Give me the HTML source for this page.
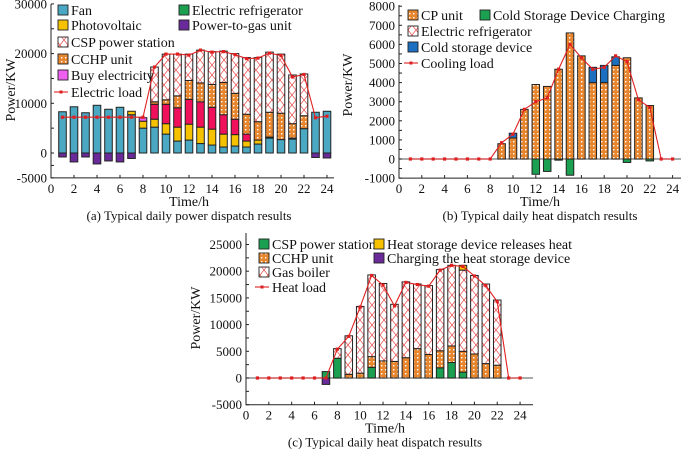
<!DOCTYPE html>
<html><head><meta charset="utf-8">
<style>
body{margin:0;background:#fff;}
svg{display:block;font-family:"Liberation Serif",serif;}
text{fill:#111;}
</style></head>
<body>
<svg id="root" width="685" height="450" viewBox="0 0 685 450">
<defs>
<pattern id="dots" width="4" height="4" patternUnits="userSpaceOnUse">
<rect width="4" height="4" fill="#e8862e"/><rect x="1" y="1" width="1.4" height="1.4" fill="#fff"/>
</pattern>
<pattern id="hatch" width="8" height="10" patternUnits="userSpaceOnUse">
<rect width="8" height="10" fill="#fff"/><path d="M0,0L8,10M8,0L0,10" stroke="#e84040" stroke-width="0.7"/>
</pattern>
</defs>
</svg>
<script>
// ---------- Chart (a) data ----------
const hoursA=[1,2,3,4,5,6,7,8,9,10,11,12,13,14,15,16,17,18,19,20,21,22,23,24];
const fanA=[8300,9300,8100,9600,8800,9200,7700,5000,5200,3800,2400,2600,1900,1600,1200,1400,1200,1800,3000,2700,2800,4900,8200,8400];
const pvA=[0,0,0,0,0,0,700,1400,1600,2100,2800,3200,3300,3200,2600,2300,1200,800,200,0,200,0,0,0];
const buyA=[0,0,0,0,0,0,0,700,0,0,0,0,0,0,0,0,0,0,0,0,0,0,0,0];
const crimsonA=[0,0,0,0,0,0,0,0,3000,3900,3900,5000,5100,4400,3900,3100,1400,0,0,0,0,0,0,0];
const cchpA=[0,0,0,0,0,0,0,0,500,900,2400,3800,3800,4600,6500,5200,4000,3700,5000,5300,2900,2600,0,0];
const cspA=[0,0,0,0,0,0,0,0,7000,9200,8400,5300,6600,6600,6300,8000,11400,12900,12100,11900,9800,8400,0,0];
const p2gA=[-800,-1800,-800,-2200,-1600,-1800,-1100,0,0,0,0,0,0,0,0,0,0,0,0,0,0,0,-900,-1000];
const loadA=[7200,7200,7200,7200,7200,7200,7200,7200,17300,19900,19900,19700,20700,20300,20400,19800,19000,19100,20100,19600,15300,15800,7100,7400];
const ticksA=[-5000,0,10000,20000,30000];
// ---------- Chart (b) data ----------
const cpB=[0,0,0,0,0,0,0,0,800,1100,2600,3900,3800,4700,6600,5400,4000,4000,4900,5300,3200,2800,0,0];
const coldDevB=[0,0,0,0,0,0,0,0,0,250,0,0,0,0,0,0,800,900,450,0,0,0,0,0];
const chargeB=[0,0,0,0,0,0,0,0,0,0,0,-800,-650,-60,-850,0,0,0,0,-180,0,-100,0,0];
const loadB=[0,0,0,0,0,0,0,0,850,1300,2600,3000,3200,4700,6000,5300,4700,4800,5400,5100,3100,2700,0,0];
const ticksB=[-1000,0,1000,2000,3000,4000,5000,6000,7000,8000];
// ---------- Chart (c) data ----------
const cspC=[0,0,0,0,0,0,1200,3700,0,0,2000,0,0,0,0,0,1900,2900,1100,0,0,0,0,0];
const cchpC=[0,0,0,0,0,0,0,0,700,900,2000,3200,3100,3800,5500,4400,3200,3100,3900,4500,2700,2400,0,0];
const boilerC=[0,0,0,0,0,0,0,1800,7200,12500,15300,14500,10700,14200,12100,12900,15200,15100,15200,14700,14900,12200,0,0];
const releaseC=[0,0,0,0,0,0,0,0,0,0,0,0,0,0,0,0,0,0,900,0,0,0,0,0];
const chargeC=[0,0,0,0,0,0,-1200,0,0,0,0,0,0,0,0,0,0,0,0,0,0,0,0,0];
const loadC=[0,0,0,0,0,0,0,5400,7800,13300,19200,17400,13500,17900,17500,17200,20200,21100,20900,19100,17300,14300,0,0];
const ticksC=[-5000,0,5000,10000,15000,20000,25000];
const xTicks=[0,2,4,6,8,10,12,14,16,18,20,22,24];

const NS='http://www.w3.org/2000/svg';
const root=document.getElementById('root');
function mk(tag,attrs,parent){const e=document.createElementNS(NS,tag);for(const k in attrs)e.setAttribute(k,attrs[k]);(parent||root).appendChild(e);return e;}

function chart(cfg){
  const g=mk('g',{});
  
  
  const x=h=>cfg.x0+(h)*cfg.xs;
  const y=v=>cfg.y0-(v)*cfg.ys;
  const top=cfg.yTop, bot=y(cfg.yMin);
  const ax=mk('path',{d:`M${cfg.x0},${top}V${bot}H${cfg.xEnd}`,stroke:'#222','stroke-width':1,fill:'none'},g);
  
  
  if(cfg.zeroLine){const z=mk('line',{x1:cfg.x0,x2:cfg.xEnd,y1:y(0),y2:y(0),stroke:'#777','stroke-width':1.2},g);
    
    }
  cfg.ticks.forEach((t,i)=>{
    const ty=y(t);
    mk('line',{x1:cfg.x0,x2:cfg.x0+3,y1:ty,y2:ty,stroke:'#222'},g);
    if(i<cfg.ticks.length-1){const my=(ty+y(cfg.ticks[i+1]))/2;mk('line',{x1:cfg.x0,x2:cfg.x0+3,y1:my,y2:my,stroke:'#222'},g);}
    const tl=mk('text',{x:cfg.x0-4,y:ty+4.5,'text-anchor':'end','font-size':13},g);tl.textContent=t;
    
    
  });
  xTicks.forEach(t=>{
    mk('line',{x1:x(t),x2:x(t),y1:bot,y2:bot-3,stroke:'#222'},g);
    const tl=mk('text',{x:x(t),y:bot+15,'text-anchor':'middle','font-size':13},g);tl.textContent=t;
    
    
  });
  const bw=cfg.xs*0.66;
  hoursA.forEach((h,i)=>{
    let pos=0,neg=0;
    cfg.series.forEach(s=>{
      const v=s.data[i]; if(!v) return;
      let y1,y2;
      if(v>0){y1=y(pos+v);y2=y(pos);pos+=v;}else{y1=y(neg);y2=y(neg+v);neg+=v;}
      const r=mk('rect',{x:x(h)-bw/2,y:y1,width:bw,height:Math.max(0.5,y2-y1),fill:s.fill,stroke:'#222','stroke-width':1},g);
      
      
    });
  });
  const pts=hoursA.map((h,i)=>x(h)+','+y(cfg.load[i])).join(' ');
  const pl=mk('polyline',{points:pts,fill:'none',stroke:'#e02020','stroke-width':1.1},g);
  
  
  hoursA.forEach((h,i)=>{const c=mk('rect',{x:x(h)-1.6,y:y(cfg.load[i])-1.6,width:3.2,height:3.2,fill:'#e02020'},g);
    
    });
  const yl=mk('text',{x:0,y:0,'text-anchor':'middle','font-size':14,transform:`translate(${cfg.ylx},${cfg.yly}) rotate(-90)`},g);yl.textContent='Power/KW';
  
  
  const xl=mk('text',{x:cfg.cx,y:bot+28,'text-anchor':'middle','font-size':14},g);xl.textContent='Time/h';
  
  
  const cp=mk('text',{x:cfg.cx,y:bot+42,'text-anchor':'middle','font-size':13},g);cp.textContent=cfg.caption;
  
  
  cfg.legend.forEach(L=>{
    const lg=mk('g',{},g);
    
    
    if(L.line){mk('line',{x1:L.x-4,x2:L.x+10,y1:L.y,y2:L.y,stroke:'#e02020','stroke-width':1.1},lg);mk('rect',{x:L.x+1.5,y:L.y-1.5,width:3,height:3,fill:'#e02020'},lg);}
    else mk('rect',{x:L.x,y:L.y-5,width:10,height:10,fill:L.fill,stroke:'#222','stroke-width':0.9},lg);
    const t=mk('text',{x:L.x+13,y:L.y+5,'font-size':14},lg);t.textContent=L.t;
  });
}

chart({name:'chart-a-power-dispatch',x0:51,xs:11.5,xEnd:334,y0:153,ys:49.7/10000,yMin:-5000,yTop:4,ticks:ticksA,
 series:[{key:'fan',data:fanA,fill:'#4aa8c2'},{key:'pv',data:pvA,fill:'#f6c200'},{key:'buy',data:buyA,fill:'#f060f0'},
 {key:'crimson',data:crimsonA,fill:'#f0105c'},{key:'cchp',data:cchpA,fill:'url(#dots)'},{key:'csp',data:cspA,fill:'url(#hatch)'},{key:'p2g',data:p2gA,fill:'#6a2a9a'}],
 load:loadA,ylx:15,yly:90,cx:189,caption:'(a) Typical daily power dispatch results',
 legend:[{x:58,y:10,t:'Fan',fill:'#4aa8c2'},{x:58,y:25,t:'Photovoltaic',fill:'#f6c200'},{x:58,y:42,t:'CSP power station',fill:'url(#hatch)'},
 {x:58,y:59,t:'CCHP unit',fill:'url(#dots)'},{x:58,y:75,t:'Buy electricity',fill:'#f060f0'},{x:58,y:92,t:'Electric load',line:1},
 {x:179,y:10,t:'Electric refrigerator',fill:'#1aa050'},{x:179,y:25,t:'Power-to-gas unit',fill:'#6a2a9a'}]});

chart({name:'chart-b-cooling-dispatch',x0:399,xs:11.4,xEnd:681,y0:159,ys:19.1/1000,yMin:-1000,yTop:5,ticks:ticksB,zeroLine:1,
 series:[{key:'cp',data:cpB,fill:'url(#dots)'},{key:'cold-device',data:coldDevB,fill:'#1a6fc0'},{key:'charging',data:chargeB,fill:'#1aa050'}],
 load:loadB,ylx:352,yly:85,cx:540,caption:'(b) Typical daily heat dispatch results',
 legend:[{x:408,y:15,t:'CP unit',fill:'url(#dots)'},{x:408,y:31,t:'Electric refrigerator',fill:'url(#hatch)'},{x:408,y:47,t:'Cold storage device',fill:'#1a6fc0'},
 {x:408,y:63,t:'Cooling load',line:1},{x:480,y:15,t:'Cold Storage Device Charging',fill:'#1aa050'}]});

chart({name:'chart-c-heat-dispatch',x0:246,xs:11.42,xEnd:533,y0:378,ys:26.7/5000,yMin:-5000,yTop:233,ticks:ticksC,zeroLine:1,
 series:[{key:'csp',data:cspC,fill:'#1aa050'},{key:'cchp',data:cchpC,fill:'url(#dots)'},{key:'boiler',data:boilerC,fill:'url(#hatch)'},
 {key:'release',data:releaseC,fill:'#f6c200'},{key:'charge',data:chargeC,fill:'#6a2a9a'}],
 load:loadC,ylx:200,yly:318,cx:385,caption:'(c) Typical daily heat dispatch results',
 legend:[{x:259,y:244,t:'CSP power station',fill:'#1aa050'},{x:259,y:258,t:'CCHP unit',fill:'url(#dots)'},{x:259,y:272,t:'Gas boiler',fill:'url(#hatch)'},
 {x:259,y:287,t:'Heat load',line:1},{x:374,y:244,t:'Heat storage device releases heat',fill:'#f6c200'},{x:374,y:258,t:'Charging the heat storage device',fill:'#6a2a9a'}]});
</script>
</body></html>
